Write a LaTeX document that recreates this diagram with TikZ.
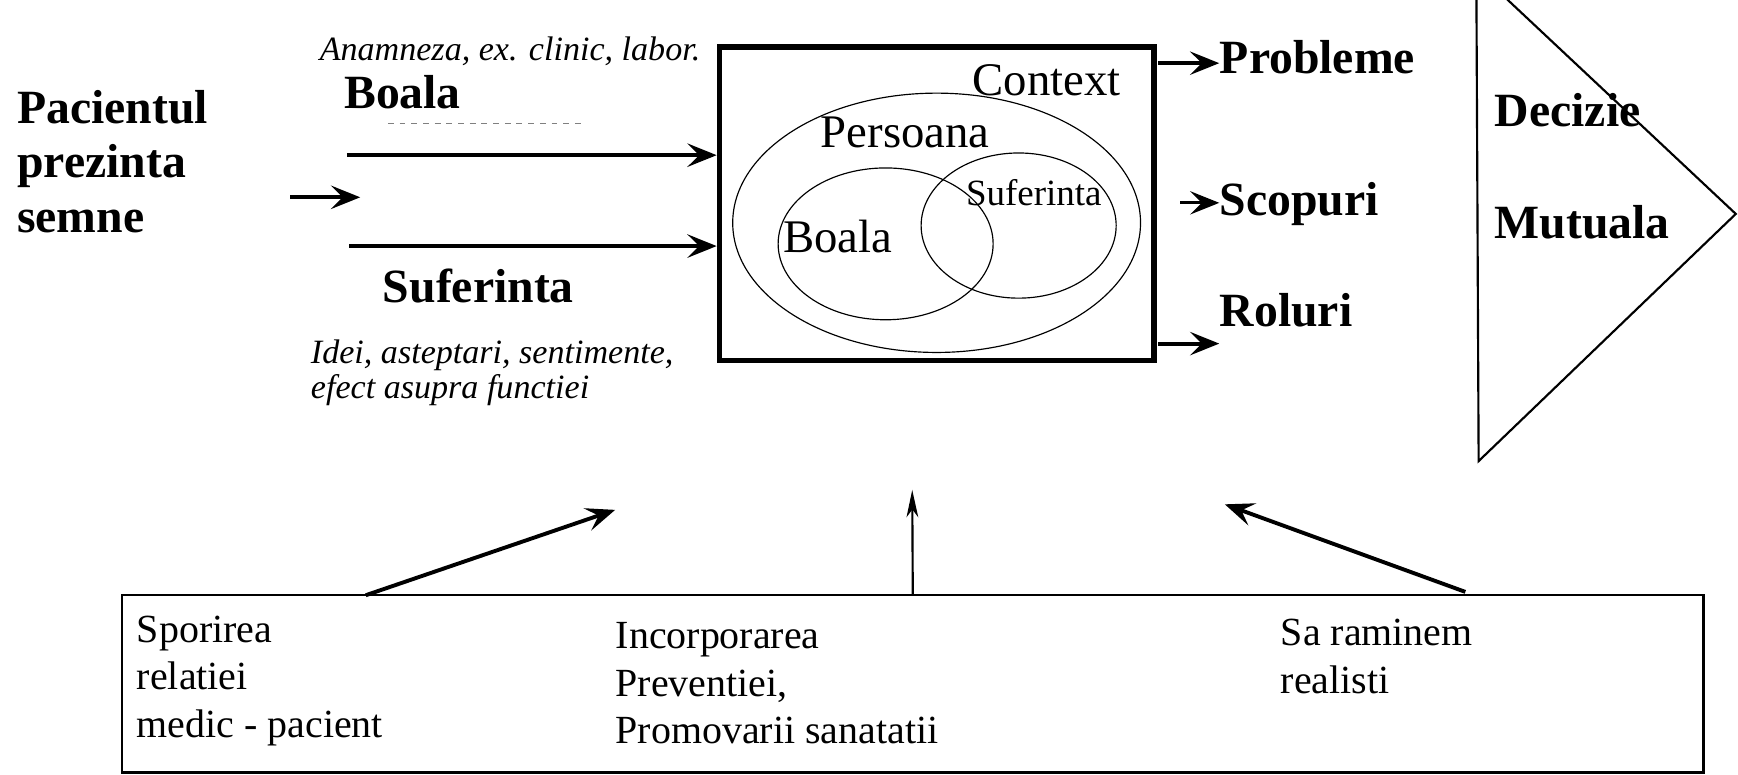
\documentclass[tikz,border=0pt]{standalone}
\usepackage{fontspec}
\setmainfont{Liberation Serif}
\usetikzlibrary{arrows.meta,shapes,positioning}

\begin{document}
\begin{tikzpicture}[->,>={Stealth[length=15pt,width=12pt,inset=6pt]},x=0.02cm,y=-0.02cm,semithick,
		bold/.style={font=\fontsize{24.5}{27.9}\selectfont\bfseries,inner sep=0pt,anchor=base west},
		plain/.style={font=\fontsize{24}{28}\selectfont,inner sep=0pt,anchor=base west},
		note/.style={font=\fontsize{17.5}{17.8}\selectfont\itshape,inner sep=0pt,anchor=base west,align=left},
		goal/.style={font=\fontsize{20.5}{24.5}\selectfont,inner sep=0pt,anchor=north west,align=left},
		fat/.style={line width=2pt},
		ring/.style={ellipse,draw,inner sep=0pt}]

		\useasboundingbox (0,0) rectangle (1568,699);

		% patient, left side
		\node[bold,anchor=north west,align=left] (pac) at (15,81) {Pacientul\\prezinta\\semne};
		\coordinate (in1) at (262,178);
		\coordinate (in2) at (325,178);
		\draw[fat] (in1) -- (in2);

		% central box
		\node[draw,line width=2.8pt,minimum width=7.84cm,minimum height=5.66cm,inner sep=0pt] (ctx) at (845,184) {};
		\node[ring,minimum width=7.36cm,minimum height=4.68cm] (pers) at (845,201) {};
		\node[ring,minimum width=3.88cm,minimum height=2.74cm] (boalaC) at (799,220) {};
		\node[ring,minimum width=3.52cm,minimum height=2.62cm] (sufC) at (919,203.5) {};
		\node[plain] (context) at (877,86) {Context};
		\node[plain] (persoana) at (740,133.5) {Persoana};
		\node[plain] (boalaIn) at (706,227.5) {Boala};
		\node[plain,font=\fontsize{19}{22}\selectfont] (sufIn) at (871,185) {Suferinta};

		% inputs
		\node[note] (anam) at (288,55) {Anamneza, ex. clinic, labor.};
		\node[bold] (boala) at (310,98) {Boala};
		\draw[-,gray,dashed,thin] (350,111) -- (525,111);
		\coordinate (b1) at (313,140);
		\coordinate (b2) at (315,222);
		\draw[fat] (b1) -- (b1 -| ctx.west);
		\draw[fat] (b2) -- (b2 -| ctx.west);
		\node[bold] (suf) at (345,273) {Suferinta};
		\node[note,anchor=north west] (idei) at (280,306) {Idei, asteptari, sentimente,\\efect asupra functiei};

		% outputs
		\node[bold] (prob) at (1100,66) {Probleme};
		\node[bold] (scop) at (1100,194) {Scopuri};
		\node[bold] (rol) at (1100,295) {Roluri};
		\coordinate (o1) at (1045,57);
		\coordinate (o2) at (1065,183);
		\coordinate (o3) at (1045,310);
		\draw[fat] (o1) -- (o1 -| prob.west);
		\draw[line width=1.4pt] (o2) -- (o2 -| scop.west);
		\draw[fat] (o3) -- (o3 -| rol.west);

		% decision
		\draw[-,line width=1.1pt] (1332,-5) -- (1334,416) -- (1566,193) -- (1355,-5);
		\node[bold] (dec) at (1348,114) {Decizie};
		\node[bold] (mut) at (1348,215) {Mutuala};

		% bottom box
		\node[draw,line width=1.1pt,minimum width=28.54cm,minimum height=3.2cm,inner sep=0pt] (bot) at (823.5,617) {};
		\node[goal] (spor) at (123,555) {Sporirea\\relatiei\\medic - pacient};
		\node[goal] (inc) at (555,561) {Incorporarea\\Preventiei,\\Promovarii sanatatii};
		\node[goal] (real) at (1155,558) {Sa raminem\\realisti};
		\coordinate (s1) at (330,537);
		\coordinate (t1) at (555,460);
		\coordinate (t2) at (823,442);
		\coordinate (s3) at (1322,534);
		\coordinate (t3) at (1105,455);
		\draw[fat] (s1) -- (t1);
		\draw[line width=1.1pt,-{Stealth[length=14pt,width=6pt,inset=4pt]}] (bot.north) -- (t2);
		\draw[fat] (s3) -- (t3);
	\end{tikzpicture}
\end{document}
